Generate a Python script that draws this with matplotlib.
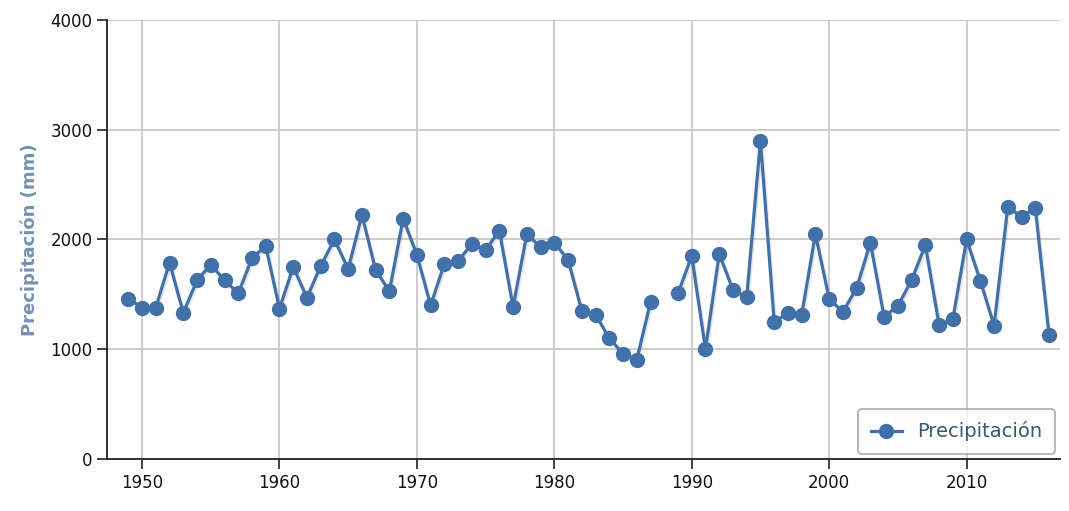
import numpy as np
import matplotlib
matplotlib.use("Agg")
import matplotlib.pyplot as plt
import matplotlib.patheffects as pe

years = list(range(1949, 2017))
precip = [1460, 1380, 1380, 1790, 1330, 1630, 1770, 1630, 1510, 1830,
          1940, 1370, 1750, 1470, 1760, 2000, 1730, 2225, 1720, 1530,
          2190, 1860, 1400, 1780, 1805, 1960, 1905, 2080, 1385, 2050,
          1930, 1970, 1815, 1350, 1315, 1100, 960, 905, 1430, None,
          1510, 1850, 1000, 1870, 1540, 1475, 2900, 1250, 1330, 1315,
          2050, 1460, 1340, 1560, 1970, 1295, 1395, 1630, 1950, 1220,
          1275, 2000, 1625, 1215, 2300, 2205, 2290, 1130]

x_ticks = [1950, 1960, 1970, 1980, 1990, 2000, 2010]
y_ticks = [0, 1000, 2000, 3000, 4000]

vals = np.array([np.nan if v is None else v for v in precip], dtype=float)

color = "#4270a8"

fig = plt.figure(figsize=(10.69, 5.11), dpi=100)
ax = fig.add_axes([0.1001, 0.1018, 0.8915, 0.8591])

# faint shadow under the line only
ax.plot(years, vals, color=color, lw=2.3, zorder=2,
        path_effects=[pe.SimpleLineShadow(offset=(1, -1.5), shadow_color="black", alpha=0.1)])
ax.plot(years, vals, color=color, lw=2.3, marker="o", markersize=10,
        solid_joinstyle="round", label="Precipitación", zorder=3)

ax.set_xlim(1947.45, 2016.8)
ax.set_ylim(0, 4000)
ax.set_xticks(x_ticks)
ax.set_yticks(y_ticks)
ax.grid(True, color="#c8c8c8", lw=1.3)
ax.set_axisbelow(True)

for s in ["top", "right"]:
    ax.spines[s].set_visible(False)
for s in ["left", "bottom"]:
    ax.spines[s].set_color("#222222")
    ax.spines[s].set_linewidth(1.3)

ax.tick_params(axis="both", labelsize=12, length=7, width=1.2, color="#222222",
               labelcolor="#111111")
ax.set_ylabel("Precipitación (mm)", fontsize=13, color="#7592b2",
              fontweight="bold", labelpad=8)

leg = ax.legend(loc="lower right", fontsize=14, frameon=True, fancybox=True,
                handlelength=1.6, borderpad=0.65, borderaxespad=0.25,
                labelcolor="#3e576f")
leg.get_frame().set_edgecolor("#999999")
leg.get_frame().set_linewidth(1.2)

fig.savefig("out.png", dpi=100)
